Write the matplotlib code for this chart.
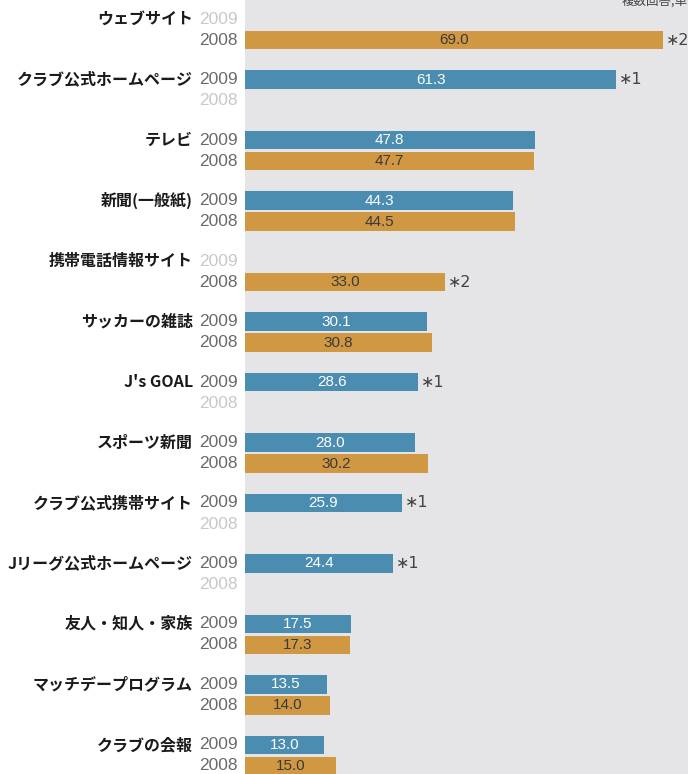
import numpy as np
import matplotlib
matplotlib.use('Agg')
import matplotlib.pyplot as plt

plt.rcParams['font.family'] = ['Noto Sans CJK JP', 'DejaVu Sans']

# data
categories = ['ウェブサイト', 'クラブ公式ホームページ', 'テレビ', '新聞(一般紙)', '携帯電話情報サイト',
              'サッカーの雑誌', "J's GOAL", 'スポーツ新聞', 'クラブ公式携帯サイト',
              'Jリーグ公式ホームページ', '友人・知人・家族', 'マッチデープログラム', 'クラブの会報']
v2009 = [np.nan, 61.3, 47.8, 44.3, np.nan, 30.1, 28.6, 28.0, 25.9, 24.4, 17.5, 13.5, 13.0]
v2008 = [69.0, np.nan, 47.7, 44.5, 33.0, 30.8, np.nan, 30.2, np.nan, np.nan, 17.3, 14.0, 15.0]
notes2009 = ['', '∗1', '', '', '', '', '∗1', '', '∗1', '∗1', '', '', '']
notes2008 = ['∗2', '', '', '', '∗2', '', '', '', '', '', '', '', '']

blue = '#4a8db1'
orange = '#d19843'
bg = '#e5e5e7'

fig = plt.figure(figsize=(6.88, 7.74), dpi=100)
ax = fig.add_axes([245 / 688, 0, 443 / 688, 1])
ax.set_facecolor(bg)

y = np.arange(len(categories))
off = 0.1736
h = 0.31
y09 = y - off
y08 = y + off

ax.barh(y09, v2009, height=h, color=blue, edgecolor='none')
ax.barh(y08, v2008, height=h, color=orange, edgecolor='none')

num_font = ['Liberation Sans', 'DejaVu Sans']
for i in range(len(categories)):
    for yy, v, note, txtcol in [(y09[i], v2009[i], notes2009[i], 'white'),
                                (y08[i], v2008[i], notes2008[i], '#3a3a3a')]:
        if not np.isnan(v):
            ax.text(v / 2, yy, f'{v:.1f}', ha='center', va='center', color=txtcol,
                    fontsize=11, family=num_font)
            if note:
                ax.annotate(note, xy=(v, yy), xytext=(2, 0), textcoords='offset points',
                            ha='left', va='center', fontsize=11.5, color='#444444',
                            family=['DejaVu Sans'])
    # year labels
    for yy, v, yr in [(y09[i], v2009[i], '2009'), (y08[i], v2008[i], '2008')]:
        col = '#c8c8c8' if np.isnan(v) else '#6a6a6a'
        ax.annotate(yr, xy=(0, yy), xycoords=ax.get_yaxis_transform(), xytext=(-5, 0),
                    textcoords='offset points', ha='right', va='center',
                    fontsize=12.5, color=col, family=num_font, annotation_clip=False)
    ax.annotate(categories[i], xy=(0, y09[i]), xycoords=ax.get_yaxis_transform(),
                xytext=(-37.5, 0), textcoords='offset points', ha='right', va='center',
                fontsize=11.5, fontweight='bold', color='#1a1a1a', annotation_clip=False)

ax.set_xlim(0, 73.1)
ax.set_ylim(12.306, -0.488)
ax.set_xticks([])
ax.set_yticks([])
for s in ax.spines.values():
    s.set_visible(False)

fig.text(622 / 688, 1 - 5 / 774, '複数回答,単位%', fontsize=9, color='#444444',
         ha='left', va='baseline')

fig.savefig('out.png', dpi=100, facecolor='white')
